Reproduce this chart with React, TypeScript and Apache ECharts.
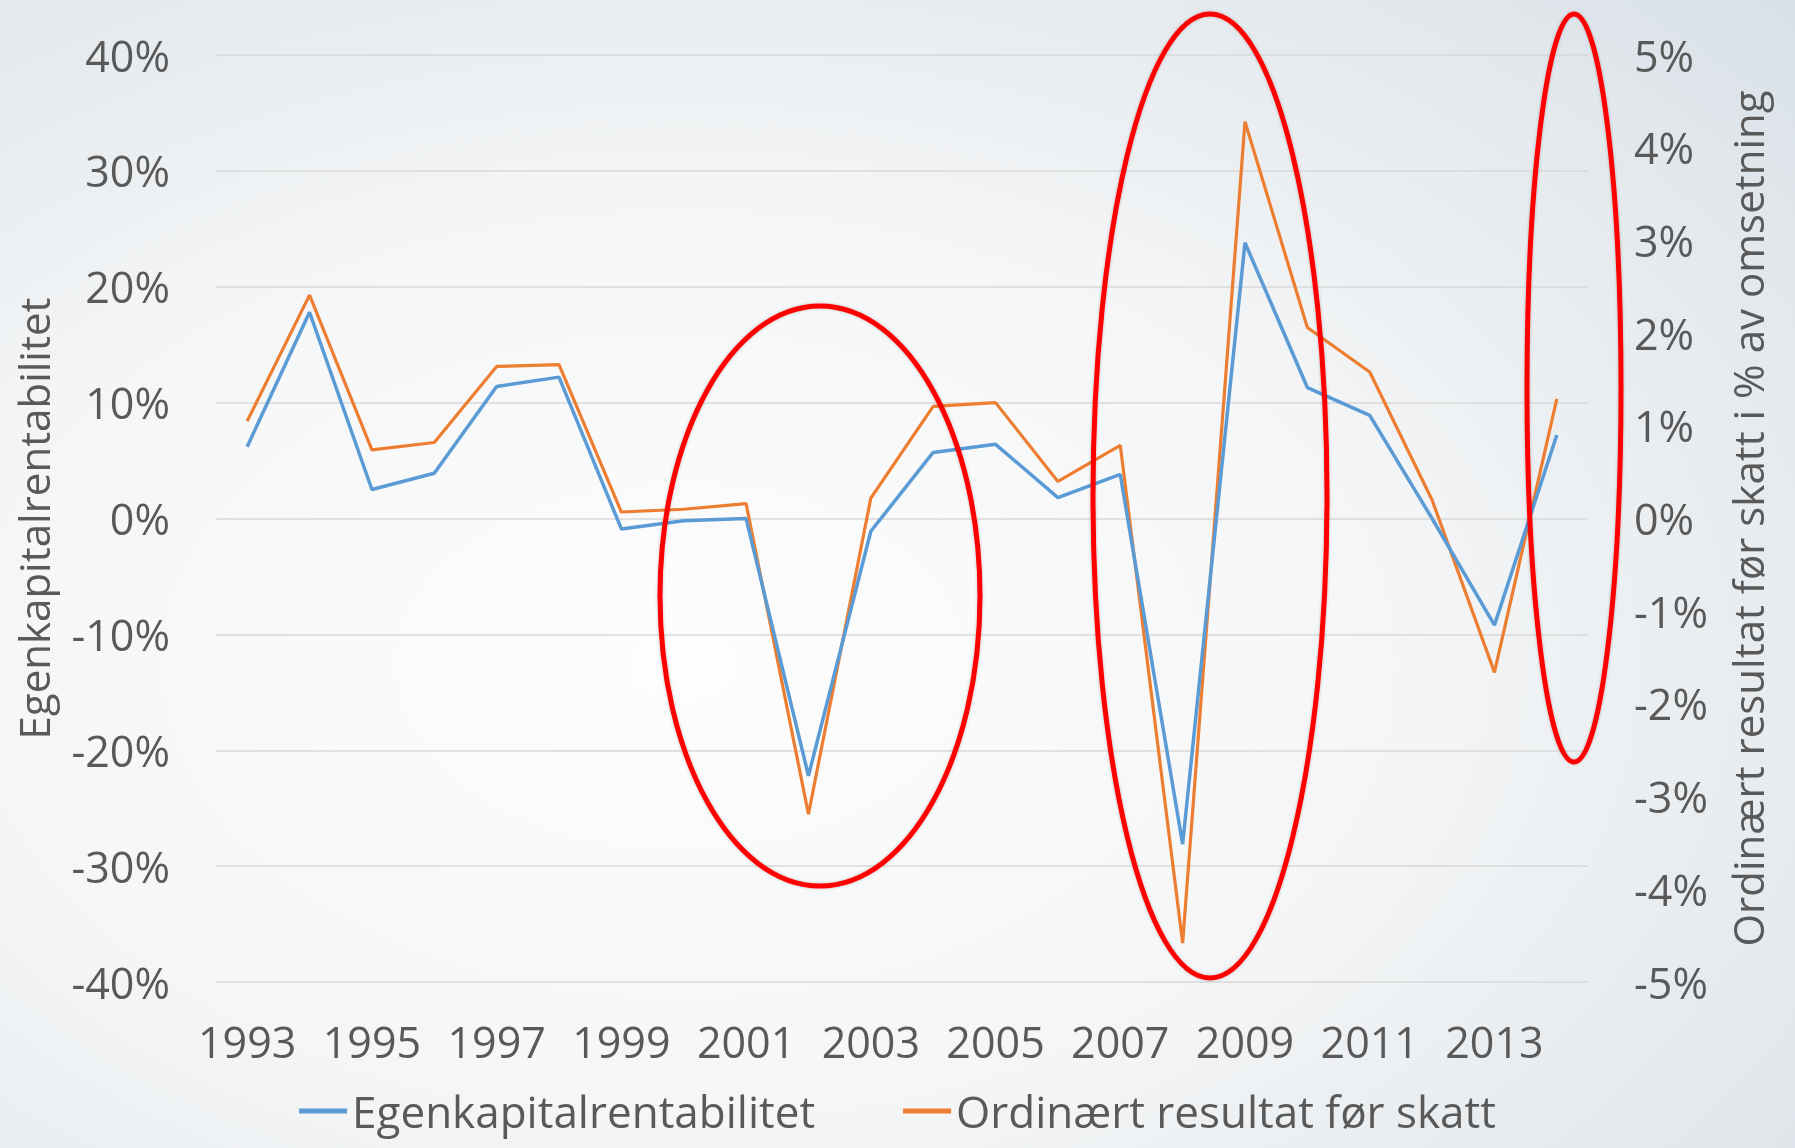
import React, { useEffect, useRef } from "react";
import * as echarts from "echarts";

const years = [
  "1993", "1994", "1995", "1996", "1997", "1998", "1999", "2000", "2001", "2002", "2003",
  "2004", "2005", "2006", "2007", "2008", "2009", "2010", "2011", "2012", "2013", "2014",
];
// Egenkapitalrentabilitet (left axis, %)
const egenkapital = [
  6.2, 17.8, 2.5, 3.9, 11.4, 12.2, -0.9, -0.2, 0.0, -22.2, -1.1,
  5.7, 6.4, 1.8, 3.8, -28.1, 23.8, 11.3, 8.9, 0.0, -9.2, 7.2,
];
// Ordinært resultat før skatt i % av omsetning (right axis, %)
const ordinaert = [
  1.05, 2.41, 0.74, 0.82, 1.64, 1.66, 0.07, 0.1, 0.16, -3.19, 0.22,
  1.21, 1.25, 0.4, 0.79, -4.58, 4.28, 2.06, 1.58, 0.2, -1.66, 1.29,
];
const leftTicks = { min: -40, max: 40, interval: 10 };
const rightTicks = { min: -5, max: 5, interval: 1 };

const FONT = "'Open Sans', 'Liberation Sans', sans-serif";
const TEXT = "#595959";
const BLUE = "#5B9BD5";
const ORANGE = "#ED7D31";

export default function App() {
  const ref = useRef<HTMLDivElement>(null);

  useEffect(() => {
    if (!ref.current) return;
    const chart = echarts.init(ref.current, undefined, { renderer: "svg" });
    const ellipseStyle = {
      fill: "none",
      stroke: "#ff0000",
      lineWidth: 5,
      shadowBlur: 3,
      shadowColor: "rgba(0,0,0,0.25)",
    };
    chart.setOption({
      animation: false,
      backgroundColor: new echarts.graphic.RadialGradient(0.38, 0.58, 0.85, [
        { offset: 0, color: "#fdfdfd" },
        { offset: 0.45, color: "#f5f6f7" },
        { offset: 1, color: "#d9e1e7" },
      ]),
      grid: { left: 216, right: 207, top: 55, bottom: 166, containLabel: false },
      legend: {
        top: 1084,
        left: "center",
        itemWidth: 48,
        itemHeight: 5,
        itemGap: 88,
        textStyle: { fontSize: 44, color: TEXT, fontFamily: FONT },
        data: [
          { name: "Egenkapitalrentabilitet", icon: "rect" },
          { name: "Ordinært resultat før skatt", icon: "rect" },
        ],
      },
      xAxis: {
        type: "category",
        data: years,
        boundaryGap: true,
        axisLine: { show: false },
        axisTick: { show: false },
        axisLabel: {
          interval: 1,
          margin: 38,
          fontSize: 43,
          color: TEXT,
          fontFamily: FONT,
        },
      },
      yAxis: [
        {
          type: "value",
          min: leftTicks.min,
          max: leftTicks.max,
          interval: leftTicks.interval,
          name: "Egenkapitalrentabilitet",
          nameLocation: "middle",
          nameRotate: 90,
          nameGap: 162,
          nameTextStyle: { fontSize: 42, color: TEXT, fontFamily: FONT },
          axisLine: { show: false },
          axisTick: { show: false },
          axisLabel: {
            margin: 46,
            fontSize: 43,
            color: TEXT,
            fontFamily: FONT,
            formatter: (v: number) => `${v}%`,
          },
          splitLine: { lineStyle: { color: "#d9d9d9", width: 1.5 } },
        },
        {
          type: "value",
          position: "right",
          min: rightTicks.min,
          max: rightTicks.max,
          interval: rightTicks.interval,
          name: "Ordinært resultat før skatt i % av omsetning",
          nameLocation: "middle",
          nameRotate: 90,
          nameGap: 138,
          nameTextStyle: { fontSize: 42, color: TEXT, fontFamily: FONT },
          axisLine: { show: false },
          axisTick: { show: false },
          axisLabel: {
            margin: 46,
            fontSize: 43,
            color: TEXT,
            fontFamily: FONT,
            formatter: (v: number) => `${v}%`,
          },
          splitLine: { show: false },
        },
      ],
      series: [
        {
          name: "Egenkapitalrentabilitet",
          type: "line",
          yAxisIndex: 0,
          data: egenkapital,
          showSymbol: false,
          symbol: "none",
          color: BLUE,
          lineStyle: { color: BLUE, width: 3.5 },
          z: 3,
        },
        {
          name: "Ordinært resultat før skatt",
          type: "line",
          yAxisIndex: 1,
          data: ordinaert,
          showSymbol: false,
          symbol: "none",
          color: ORANGE,
          lineStyle: { color: ORANGE, width: 3.2 },
          z: 2,
        },
      ],
      graphic: [
        { type: "ellipse", z: 100, shape: { cx: 820, cy: 596, rx: 160, ry: 290 }, style: ellipseStyle },
        { type: "ellipse", z: 100, shape: { cx: 1210, cy: 496, rx: 117, ry: 482 }, style: ellipseStyle },
        { type: "ellipse", z: 100, shape: { cx: 1574, cy: 388, rx: 47, ry: 374 }, style: ellipseStyle },
      ],
    });
    return () => chart.dispose();
  }, []);

  return (
    <div
      ref={ref}
      style={{ position: "fixed", left: 0, top: 0, width: 1795, height: 1148 }}
    />
  );
}
